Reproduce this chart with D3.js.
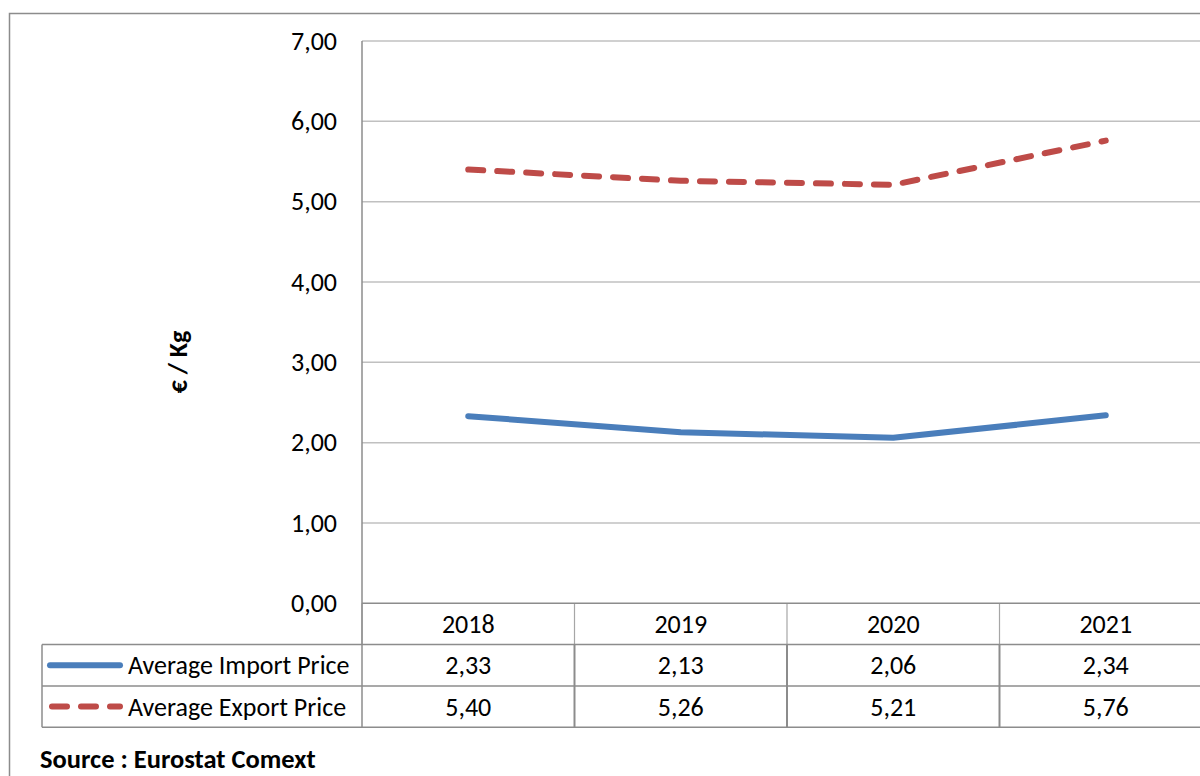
<!DOCTYPE html>
<html>
<head>
<meta charset="utf-8">
<script src="https://cdn.jsdelivr.net/npm/d3@7"></script>
<style>
  body { margin: 0; background: #fff; }
  svg { display: block; }
  text { font-family: Calibri, Carlito, "Open Sans", sans-serif; }
</style>
</head>
<body>
<div id="my_dataviz"></div>
<script>
const years = ["2018", "2019", "2020", "2021"];
const importPrice = [2.33, 2.13, 2.06, 2.34];
const exportPrice = [5.40, 5.26, 5.21, 5.76];
const yTicks = [0, 1, 2, 3, 4, 5, 6, 7];
const seriesNames = ["Average Import Price", "Average Export Price"];

const width = 1200;
const height = 776;
const fontSize = 26;

const locale = d3.formatLocale({ decimal: ",", thousands: ".", grouping: [3], currency: ["", "€"] });
const fmt = locale.format(".2f");

const svg = d3.select("#my_dataviz")
  .append("svg")
  .attr("width", width)
  .attr("height", height);

// outer chart border
svg.append("rect")
  .attr("x", 9.5).attr("y", 13.5)
  .attr("width", 1300).attr("height", 900)
  .attr("fill", "none")
  .attr("stroke", "#8c8c8c")
  .attr("stroke-width", 1.5);

const plot = { left: 362, right: 1212, top: 41, bottom: 603.3 };

const x = d3.scaleBand().domain(years).range([plot.left, plot.right]).padding(0);
const y = d3.scaleLinear().domain([0, 7]).range([plot.bottom, plot.top]);

// gridlines
svg.append("g")
  .selectAll("line")
  .data(yTicks.filter(d => d > 0))
  .join("line")
  .attr("x1", plot.left).attr("x2", plot.right)
  .attr("y1", d => y(d)).attr("y2", d => y(d))
  .attr("stroke", "#c0c0c0")
  .attr("stroke-width", 1.5);

// y axis
const yAxis = d3.axisLeft(y)
  .tickValues(yTicks)
  .tickFormat(fmt)
  .tickSize(0)
  .tickPadding(25);

const gy = svg.append("g")
  .attr("transform", `translate(${plot.left},0)`)
  .call(yAxis);
gy.select(".domain").remove();
gy.selectAll("text")
  .attr("font-size", fontSize)
  .attr("fill", "#000")
  .style("font-family", 'Calibri, Carlito, "Open Sans", sans-serif');

// axis title
svg.append("text")
  .attr("transform", `translate(187,362) rotate(-90)`)
  .attr("text-anchor", "middle")
  .attr("font-size", fontSize)
  .attr("font-weight", "bold")
  .text("€ / Kg");

// lines (straight segments, like the reference)
const line = d3.line()
  .x((d, i) => x(years[i]) + x.bandwidth() / 2)
  .y(d => y(d));

svg.append("path")
  .datum(importPrice)
  .attr("d", line)
  .attr("fill", "none")
  .attr("stroke", "#4a7ebb")
  .attr("stroke-width", 6)
  .attr("stroke-linecap", "round")
  .attr("stroke-linejoin", "round");

svg.append("path")
  .datum(exportPrice)
  .attr("d", line)
  .attr("fill", "none")
  .attr("stroke", "#be4b48")
  .attr("stroke-width", 6)
  .attr("stroke-linecap", "round")
  .attr("stroke-linejoin", "round")
  .attr("stroke-dasharray", "15,14");

// data table
const rowH = 41.3;
const tableTop = plot.bottom;
const legendLeft = 42;
const rows = [importPrice, exportPrice];
const tableColor = "#8c8c8c";

const table = svg.append("g");

// header vertical separators (tick marks)
table.selectAll(".hsep")
  .data(years)
  .join("line")
  .attr("x1", d => x(d)).attr("x2", d => x(d))
  .attr("y1", tableTop).attr("y2", tableTop + rowH)
  .attr("stroke", "#a6a6a6")
  .attr("stroke-width", 1.2);

// axis line (plot left edge + table)
table.append("line")
  .attr("x1", plot.left).attr("x2", plot.left)
  .attr("y1", plot.top).attr("y2", tableTop + rowH * 3)
  .attr("stroke", tableColor).attr("stroke-width", 1.5);

// horizontal lines
table.append("line")
  .attr("x1", plot.left).attr("x2", plot.right)
  .attr("y1", tableTop).attr("y2", tableTop)
  .attr("stroke", tableColor).attr("stroke-width", 1.5);

table.selectAll(".hrow")
  .data([1, 2, 3])
  .join("line")
  .attr("x1", legendLeft).attr("x2", plot.right)
  .attr("y1", d => tableTop + rowH * d).attr("y2", d => tableTop + rowH * d)
  .attr("stroke", tableColor).attr("stroke-width", 1.5);

// legend column left edge
table.append("line")
  .attr("x1", legendLeft).attr("x2", legendLeft)
  .attr("y1", tableTop + rowH).attr("y2", tableTop + rowH * 3)
  .attr("stroke", tableColor).attr("stroke-width", 1.5);

// body vertical separators
table.selectAll(".bsep")
  .data(years.slice(1))
  .join("line")
  .attr("x1", d => x(d)).attr("x2", d => x(d))
  .attr("y1", tableTop + rowH).attr("y2", tableTop + rowH * 3)
  .attr("stroke", tableColor).attr("stroke-width", 2);

// header labels
table.selectAll(".yr")
  .data(years)
  .join("text")
  .attr("x", d => x(d) + x.bandwidth() / 2)
  .attr("y", tableTop + rowH / 2)
  .attr("dy", "0.35em")
  .attr("text-anchor", "middle")
  .attr("font-size", fontSize)
  .text(d => d);

// values
rows.forEach((vals, r) => {
  table.selectAll(".v" + r)
    .data(vals)
    .join("text")
    .attr("x", (d, i) => x(years[i]) + x.bandwidth() / 2)
    .attr("y", tableTop + rowH * (r + 1.5))
    .attr("dy", "0.35em")
    .attr("text-anchor", "middle")
    .attr("font-size", fontSize)
    .text(d => fmt(d));
});

// legend keys
const keyY = r => tableTop + rowH * (r + 1.5);
table.append("line")
  .attr("x1", 50).attr("x2", 120)
  .attr("y1", keyY(0)).attr("y2", keyY(0))
  .attr("stroke", "#4a7ebb").attr("stroke-width", 6)
  .attr("stroke-linecap", "round");
table.append("line")
  .attr("x1", 52).attr("x2", 120)
  .attr("y1", keyY(1)).attr("y2", keyY(1))
  .attr("stroke", "#be4b48").attr("stroke-width", 6)
  .attr("stroke-linecap", "round")
  .attr("stroke-dasharray", "15,14");

table.selectAll(".lg")
  .data(seriesNames)
  .join("text")
  .attr("x", 128)
  .attr("y", (d, i) => keyY(i))
  .attr("dy", "0.35em")
  .attr("font-size", fontSize)
  .text(d => d);

// source
svg.append("text")
  .attr("x", 40).attr("y", 768)
  .attr("font-size", fontSize + 0.5)
  .attr("font-weight", "bold")
  .text("Source : Eurostat Comext");
</script>
</body>
</html>
